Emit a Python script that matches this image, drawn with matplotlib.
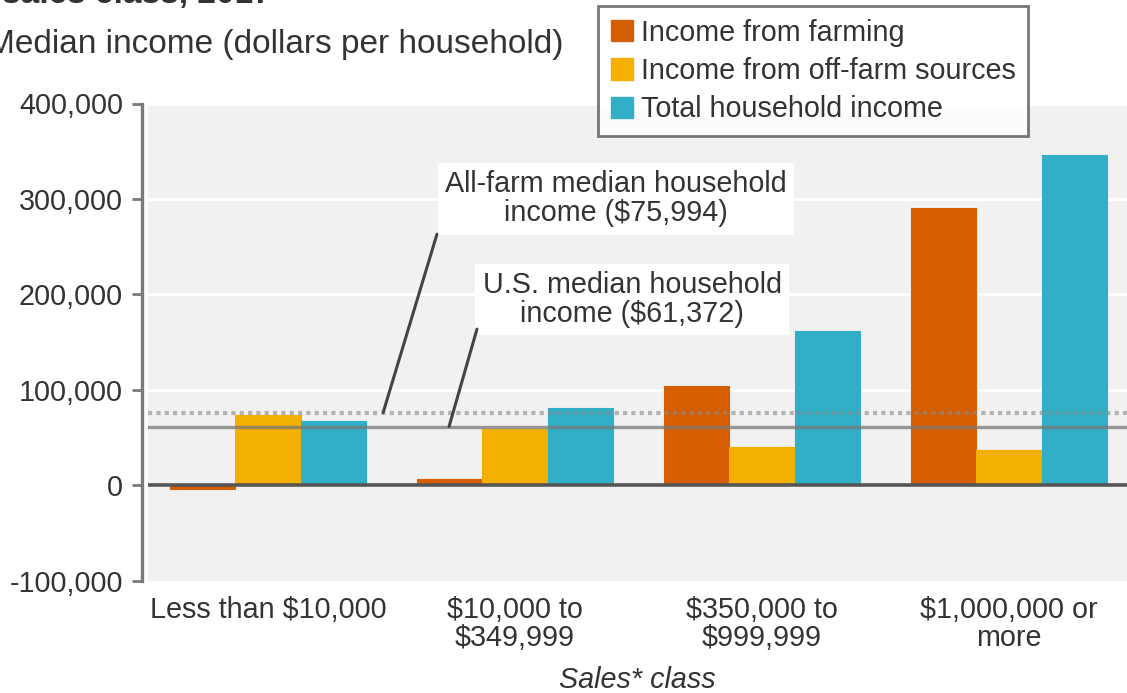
import matplotlib
matplotlib.use("Agg")
import matplotlib.pyplot as plt
import matplotlib.patches as mpatches
import numpy as np

plt.rcParams['font.family'] = ['Liberation Sans', 'DejaVu Sans']

# ---- data ----
categories = ["Less than $10,000", "$10,000 to\n$349,999", "$350,000 to\n$999,999", "$1,000,000 or\nmore"]
series_names = ["Income from farming", "Income from off-farm sources", "Total household income"]
farming = [-4000, 6500, 104000, 290000]
off_farm = [73500, 59000, 40000, 36500]
total = [67000, 80500, 162000, 345500]
all_farm_median = 75994
us_median = 61372
yticks = [-100000, 0, 100000, 200000, 300000, 400000]
ytick_labels = ["-100,000", "0", "100,000", "200,000", "300,000", "400,000"]
colors = ["#D55E00", "#F3B000", "#31AFC7"]

FS = 20.7
TXT = "#333333"

fig = plt.figure(figsize=(11.27, 6.93), dpi=100)
W, H = 1127, 693
ax = fig.add_axes([148 / W, 1 - 580.5 / H, (W - 148) / W, (580.5 - 103.5) / H])
ax.set_facecolor("#F1F1F1")

x = np.arange(len(categories))
bw = 0.265
for i, (vals, c) in enumerate(zip([farming, off_farm, total], colors)):
    ax.bar(x + (i - 1) * bw, vals, width=bw, color=c, zorder=3,
           edgecolor=c, linewidth=0.8)

ax.set_xlim(-0.486, 3.478)
ax.set_ylim(-100000, 400000)

# white grid
for yv in yticks[1:]:
    ax.axhline(yv, color="white", lw=2.2, zorder=1)

# zero line
ax.axhline(0, color="#555555", lw=2.6, zorder=5)
# reference lines
ax.axhline(all_farm_median, color="#8a8a8a", lw=3, ls=(0, (1, 1)), alpha=0.6, zorder=4)
ax.axhline(us_median, color="#777777", lw=2.4, alpha=0.75, zorder=4)

# annotations
ax.text(1.41, 300000, "All-farm median household\nincome ($75,994)", ha="center", va="center",
        fontsize=FS, color=TXT, linespacing=1.05, zorder=6,
        bbox=dict(boxstyle="square,pad=0.25", fc="white", ec="none"))
ax.text(1.474, 194500, "U.S. median household\nincome ($61,372)", ha="center", va="center",
        fontsize=FS, color=TXT, linespacing=1.05, zorder=6,
        bbox=dict(boxstyle="square,pad=0.25", fc="white", ec="none"))
ax.annotate("", xy=(0.466, all_farm_median), xytext=(0.684, 263000),
            arrowprops=dict(arrowstyle="-", color="#444444", lw=2.2, shrinkA=0, shrinkB=0), zorder=6)
ax.annotate("", xy=(0.733, us_median), xytext=(0.846, 163500),
            arrowprops=dict(arrowstyle="-", color="#444444", lw=2.2, shrinkA=0, shrinkB=0), zorder=6)

# axes styling
for s in ["top", "right", "bottom"]:
    ax.spines[s].set_visible(False)
ax.spines["left"].set_position(("outward", 4))
ax.spines["left"].set_color("#7a7a7a")
ax.spines["left"].set_linewidth(2.4)
ax.set_yticks(yticks)
ax.set_yticklabels(ytick_labels)
ax.tick_params(axis="y", length=7, width=2, color="#7a7a7a", pad=7, labelsize=FS, labelcolor=TXT)
ax.set_xticks(x)
ax.set_xticklabels(categories, fontsize=FS, color=TXT, linespacing=1.0)
ax.tick_params(axis="x", length=0, pad=11)
ax.set_xlabel("Sales* class", fontsize=FS, style="italic", color=TXT, labelpad=10.5)

# titles (top cut off, as in the reference)
fig.text(0.002, 1 - 2.5 / H, "sales class, 2017", fontsize=24, fontweight="bold", color=TXT,
         ha="left", va="baseline")
fig.text(-13 / W, 1 - 44 / H, "Median income (dollars per household)", fontsize=24, color=TXT,
         ha="left", va="center")

# legend
handles = [mpatches.Patch(facecolor=c, edgecolor=c, label=n) for c, n in zip(colors, series_names)]
leg = fig.legend(handles=handles, loc="upper left", bbox_to_anchor=(598 / W, 1 - 6 / H),
                 frameon=True, fancybox=False, fontsize=FS, borderaxespad=0,
                 handlelength=0.75, handleheight=0.75, handletextpad=0.28,
                 labelspacing=0.35, borderpad=0.45)
leg.get_frame().set_edgecolor("#555555")
leg.get_frame().set_linewidth(2)
for t in leg.get_texts():
    t.set_color(TXT)

fig.savefig("out.png", dpi=100)
